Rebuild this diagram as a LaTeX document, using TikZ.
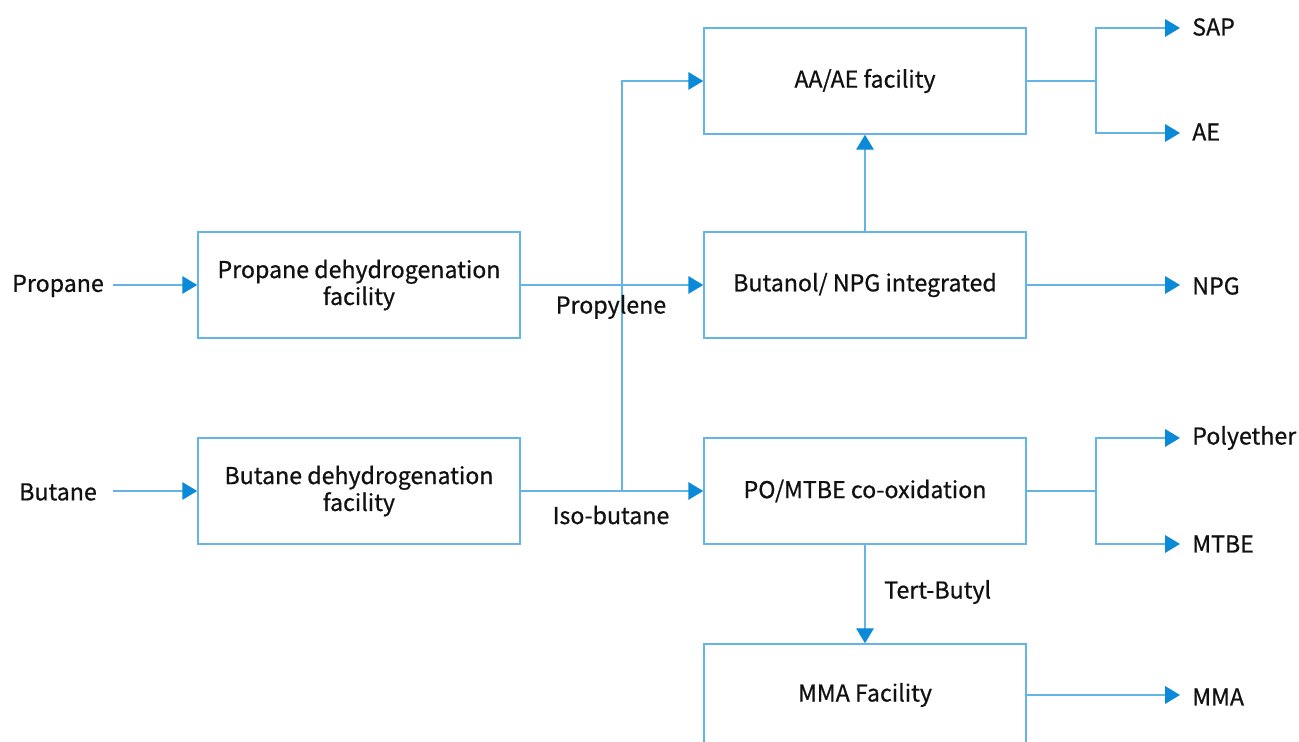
\documentclass[tikz,border=0pt]{standalone}
\usepackage{fontspec}
\setmainfont{Noto Sans CJK KR}[FakeBold=0.7]
\usepackage{xcolor}
\usetikzlibrary{
    positioning,
    calc,
    arrows.meta
}
\definecolor{LinhaAzul}{HTML}{64B5E6}
\definecolor{SetaAzul}{HTML}{0A8AD8}
\definecolor{TextoPreto}{HTML}{111111}

\tikzset{
    caixa/.style={
        draw=LinhaAzul,
        line width=0.9pt,
        minimum width=6.44cm,
        minimum height=2.12cm,
        align=center,
        text=TextoPreto
    },
    rotulo/.style={
        text=TextoPreto,
        inner sep=4.5pt
    },
    fluxo/.style={
        draw=LinhaAzul,
        line width=0.8pt,
        -{Triangle[length=8.5pt,width=10pt,color=SetaAzul]}
    },
    linha/.style={
        draw=LinhaAzul,
        line width=0.8pt
    }
}

\begin{document}
\begin{tikzpicture}[x=0.02cm,y=-0.02cm,
    font=\fontsize{13.2}{15.3}\selectfont]
    \useasboundingbox (0,0) rectangle (1299,742);
    \clip (0,0) rectangle (1299,742);

    % caixas
    \node[caixa] (desidroPropano) at (359,285) {Propane dehydrogenation\\facility};
    \node[caixa] (desidroButano) at (359,491) {Butane dehydrogenation\\facility};
    \node[caixa] (aaae) at (865,81) {AA/AE facility};
    \node[caixa] (butanol) at (865,285) {Butanol/ NPG integrated};
    \node[caixa] (pomtbe) at (865,491) {PO/MTBE co-oxidation};
    \node[caixa] (mma) at (865,697) {};

    \coordinate (subida) at (622,491);
    \coordinate (divAA) at (1096,81);
    \coordinate (divPO) at (1096,491);
    \coordinate (saidaMMA) at (1026,695);

    % conexoes
    \draw[fluxo] (113,285) -- (desidroPropano.west);
    \draw[fluxo] (113,491) -- (desidroButano.west);
    \draw[fluxo] (desidroPropano.east) -- (butanol.west);
    \draw[fluxo] (desidroButano.east) -- (pomtbe.west);
    \draw[fluxo] (subida) |- (aaae.west);
    \draw[fluxo] (butanol.north) -- (aaae.south);
    \draw[fluxo] (pomtbe.south) -- (mma.north);
    \draw[linha] (aaae.east) -- (divAA);
    \draw[fluxo] (divAA) |- (1180,28);
    \draw[fluxo] (divAA) |- (1180,133);
    \draw[fluxo] (butanol.east) -- (1180,285);
    \draw[linha] (pomtbe.east) -- (divPO);
    \draw[fluxo] (divPO) |- (1180,438);
    \draw[fluxo] (divPO) |- (1180,544);
    \draw[fluxo] (saidaMMA) -- (1180,695);

    % textos
    \node[rotulo] (mmaTexto) at (865,695) {MMA Facility};
    \node[rotulo] (propano) at (58,286) {Propane};
    \node[rotulo] (butano) at (58,492) {Butane};
    \node[rotulo, anchor=west] (sap) at (1184,27) {SAP};
    \node[rotulo, anchor=west] (ae) at (1184,132) {AE};
    \node[rotulo, anchor=west] (npg) at (1184,286) {NPG};
    \node[rotulo, anchor=west] (polieter) at (1184,438) {Polyether};
    \node[rotulo, anchor=west] (mtbe) at (1184,544) {MTBE};
    \node[rotulo, anchor=west] (mmaSaida) at (1184,697) {MMA};
    \node[rotulo] (propileno) at (611,307) {Propylene};
    \node[rotulo] (isobutano) at (611,515) {Iso-butane};
    \node[rotulo, anchor=west] (tercButil) at (876,592) {Tert-Butyl};
\end{tikzpicture}
\end{document}
